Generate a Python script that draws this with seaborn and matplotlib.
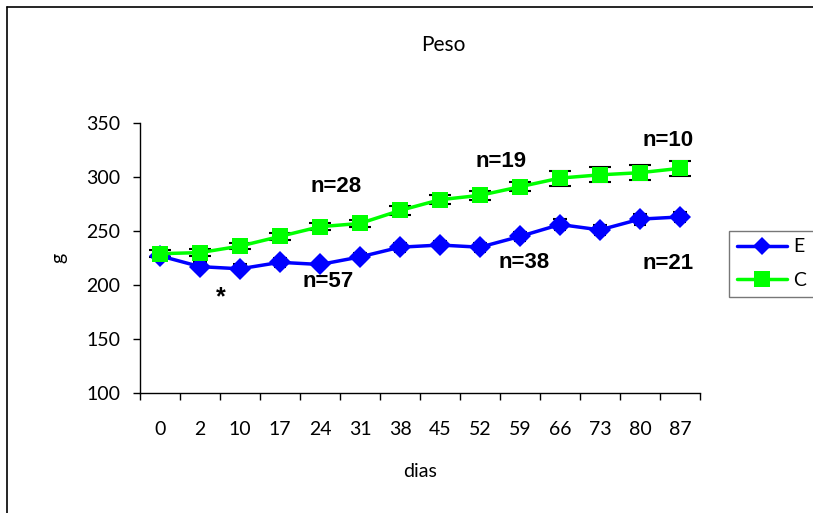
import matplotlib
matplotlib.use("Agg")
import matplotlib.pyplot as plt
import seaborn as sns
import pandas as pd
import numpy as np
from matplotlib.lines import Line2D

days = ["0", "2", "10", "17", "24", "31", "38", "45", "52", "59", "66", "73", "80", "87"]
E_vals = [227, 217, 215, 221, 219, 226, 235, 237, 235, 245, 256, 251, 261, 263]
E_err = [3, 4, 4, 4, 3, 4, 4, 4, 4, 4, 5, 5, 5, 5]
C_vals = [229, 230, 236, 245, 254, 257, 269, 279, 283, 291, 299, 302, 304, 308]
C_err = [3, 3, 3, 3, 3, 3, 4, 4, 4, 4, 7, 7, 7, 7]
series_names = ["E", "C"]
annot_text = ["n=28", "n=57", "*", "n=19", "n=38", "n=10", "n=21"]
annot_x = [4.4, 4.2, 1.52, 8.52, 9.1, 12.7, 12.7]
annot_y = [291, 203, 189, 314, 221, 334, 220]

sns.set_style("white")
plt.rcParams['font.family'] = ['Lato', 'DejaVu Sans']
plt.rcParams['text.color'] = 'black'
plt.rcParams['xtick.color'] = 'black'
plt.rcParams['ytick.color'] = 'black'
plt.rcParams['axes.labelcolor'] = 'black'

idx = np.arange(len(days))
df = pd.DataFrame({
    "i": np.concatenate([idx, idx]),
    "g": E_vals + C_vals,
    "grupo": ["E"] * len(days) + ["C"] * len(days),
})

fig = plt.figure(figsize=(8.13, 5.13), dpi=100)
ax = fig.add_axes([140 / 813, 1 - 393 / 513, 560 / 813, 270 / 513])

ax.errorbar(idx, E_vals, yerr=E_err, fmt="none", ecolor="black", capsize=5, elinewidth=1.2, capthick=1.5, zorder=2)
ax.errorbar(idx, C_vals, yerr=C_err, fmt="none", ecolor="black", capsize=8, elinewidth=1.2, capthick=1.5, zorder=2)

sns.lineplot(data=df, x="i", y="g", hue="grupo", style="grupo",
             palette={"E": "#0000FF", "C": "#00FF00"},
             markers={"E": "D", "C": "s"}, dashes=False,
             markersize=11, markeredgewidth=0, linewidth=2.5,
             ax=ax, legend=False, zorder=3)
ax.lines[0].set_markersize(9)

ax.set_xlim(-0.5, len(days) - 0.5)
ax.set_ylim(100, 350)
ax.set_yticks([100, 150, 200, 250, 300, 350])
ax.set_yticklabels(["100", "150", "200", "250", "300", "350"])
ax.set_xticks(idx)
ax.set_xticklabels(days)
ax.set_xticks(np.arange(-0.5, len(days)), minor=True)
ax.tick_params(axis="x", which="major", length=0, pad=20, labelsize=14)
ax.tick_params(axis="x", which="minor", length=5, width=1, direction="out", bottom=True, color="black")
ax.tick_params(axis="y", length=5, width=1, direction="out", left=True, color="black", labelsize=14, pad=9)
for s in ["top", "right"]:
    ax.spines[s].set_visible(False)
for s in ["left", "bottom"]:
    ax.spines[s].set_color("black")
    ax.spines[s].set_linewidth(1)

ax.set_xlabel("dias", fontsize=14, labelpad=18)
ax.set_ylabel("g", fontsize=14, labelpad=14)
fig.text(443 / 813, 1 - 45 / 513, "Peso", ha="center", va="center", fontsize=15)

for t, x, y in zip(annot_text, annot_x, annot_y):
    ax.text(x, y, t, ha="center", va="center", fontsize=16 if t != "*" else 18,
            fontweight="bold", family=["Liberation Sans", "DejaVu Sans"], color="black")

handles = [
    Line2D([], [], color="#0000FF", marker="D", markersize=9, linewidth=2.5, markeredgewidth=0),
    Line2D([], [], color="#00FF00", marker="s", markersize=11, linewidth=2.5, markeredgewidth=0),
]
leg = fig.legend(handles, series_names, loc="upper left",
                 bbox_to_anchor=(719 / 813, 1 - 221 / 513), fontsize=14,
                 frameon=True, fancybox=False, edgecolor="#555555",
                 handlelength=2.6, borderpad=0.4, labelspacing=0.85, handletextpad=0.3)
leg.get_frame().set_linewidth(1)

# figure border (left and top)
fig.add_artist(Line2D([7 / 813, 7 / 813], [0, 1 - 7 / 513], color="black", linewidth=1.2, transform=fig.transFigure))
fig.add_artist(Line2D([7 / 813, 1], [1 - 7 / 513, 1 - 7 / 513], color="black", linewidth=1.2, transform=fig.transFigure))

fig.savefig("out.png", dpi=100)
